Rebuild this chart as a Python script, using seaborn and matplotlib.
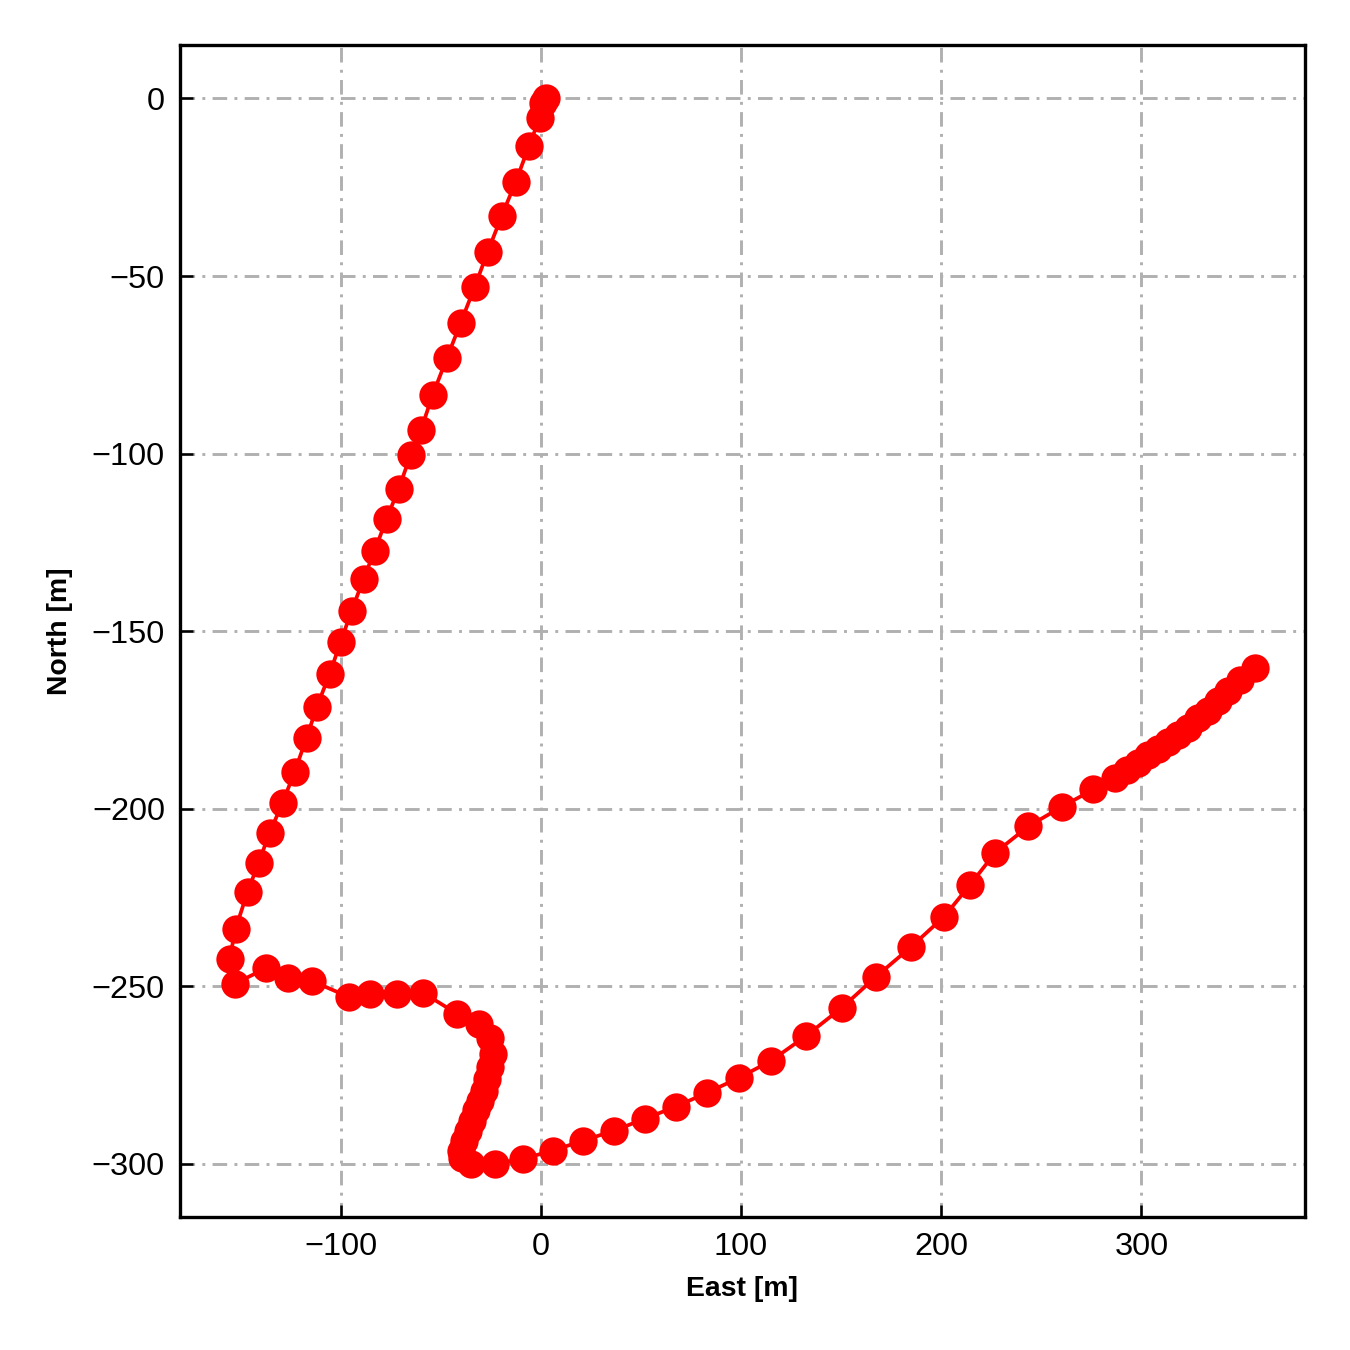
import pandas as pd
import seaborn as sns
import matplotlib.pyplot as plt

# trajectory (metres)
east = [2.5, 1, -0.5, -6, -12.5, -19.5, -26.5, -33, -40, -47, -54, -60, -65,
        -71, -77, -83, -88.5, -94.5, -100, -105.5, -112, -117, -123, -129,
        -135.5, -141, -146.5, -152.5, -155.5, -153, -137.5, -126.5, -114.5,
        -96, -85.5, -72, -59, -42, -31, -25.5, -24, -25.5, -27, -28.5, -30.5,
        -32.5, -34.5, -36.5, -38.5, -40, -39.5, -35, -23, -9, 6, 21, 36.5, 52,
        67.5, 83, 99, 115, 132.5, 150.5, 167.5, 185, 201.5, 214.5, 227, 243.5,
        260.5, 276, 287, 293, 298.5, 303.5, 308.5, 313.5, 318.5, 323.5, 328.5,
        333.5, 338.5, 343.5, 349.5, 357]
north = [0, -1.4, -5.4, -13.5, -23.4, -33, -43.1, -53, -63.1, -73.2, -83.4,
         -93.5, -100.3, -109.9, -118.3, -127.3, -135.2, -144.2, -153, -162,
         -171.5, -180, -189.6, -198.3, -206.8, -215.2, -223.4, -233.8, -242.3,
         -249.3, -245, -247.6, -248.5, -253, -252.1, -252.1, -251.8, -257.7,
         -260.6, -264.5, -269, -272.7, -276, -279.4, -282.3, -285, -287.9,
         -290.7, -293.5, -296.3, -298.3, -300, -300, -298.6, -296.3, -293.5,
         -290.7, -287.3, -283.9, -280, -275.8, -271, -264, -256, -247.3, -238.9,
         -230.4, -221.4, -212.4, -205, -199.4, -194.6, -191.3, -189, -187, -185,
         -183.1, -181.1, -179.2, -177.2, -174.6, -172.4, -169.6, -167, -163.9,
         -160.3]

df = pd.DataFrame({"east": east, "north": north})

sns.set_style("ticks")
plt.rcParams["font.family"] = ["Liberation Sans", "DejaVu Sans"]

fig = plt.figure(figsize=(4.5, 4.5), dpi=300)
ax = fig.add_axes([0.133, 0.0985, 0.834, 0.868])

sns.lineplot(data=df, x="east", y="north", sort=False, estimator=None,
             color="red", marker="o", markersize=6.8, markeredgewidth=0,
             linewidth=0.9, ax=ax)

ax.set_xlim(-180.5, 382)
ax.set_ylim(-315, 15)
ax.set_xticks([-100, 0, 100, 200, 300])
ax.set_yticks([0, -50, -100, -150, -200, -250, -300])
ax.grid(True, linestyle=(0, (5, 2.5, 1, 2.5)), color="#b0b0b0", linewidth=0.7)
ax.set_axisbelow(True)
ax.tick_params(direction="in", labelsize=7.8, length=3, width=0.6,
               colors="black", pad=3.5)
for s in ax.spines.values():
    s.set_linewidth(0.8)
    s.set_color("black")
ax.set_xlabel("East [m]", fontsize=6.8, fontweight="bold", color="black",
              labelpad=3.5)
ax.set_ylabel("North [m]", fontsize=6.8, fontweight="bold", color="black",
              labelpad=4.5)

fig.savefig("out.png", dpi=300)
